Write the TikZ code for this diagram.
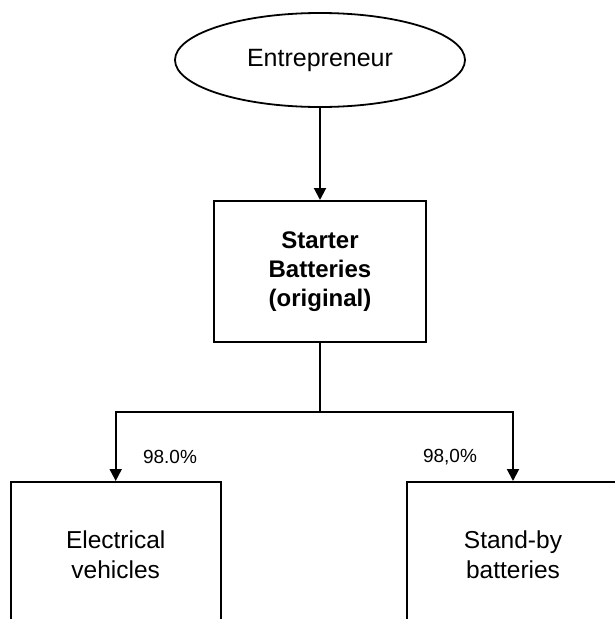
\documentclass[tikz,border=0pt]{standalone}
\usepackage{fontspec}
\setmainfont{Liberation Sans}
\usetikzlibrary{shapes.geometric,arrows.meta}
\begin{document}
\begin{tikzpicture}[x=1pt,y=-1pt,
  conn/.style={line width=2pt},
  arr/.style={conn,-{Triangle[length=12pt,width=12pt]}},
  boxstyle/.style={draw,line width=2pt,rectangle,inner sep=0pt,align=center},
  lbl/.style={inner sep=0pt,font=\fontsize{19}{22}\selectfont}]
\useasboundingbox (0,0) rectangle (615,619);
\clip (0,0) rectangle (615,619);
\node[draw,ellipse,line width=1.8pt,minimum width=290pt,minimum height=94pt,inner sep=0pt,
  font=\fontsize{25}{30}\selectfont] (ent) at (320,60) {Entrepreneur};
\node[boxstyle,minimum width=212pt,minimum height=141pt,
  font=\fontsize{24}{29}\bfseries\selectfont] (mid) at (320,271.5) {Starter\\Batteries\\(original)};
\node[boxstyle,minimum width=210pt,minimum height=146pt,
  font=\fontsize{24.5}{30}\selectfont] (ev) at (115.7,555) {Electrical\\vehicles};
\node[boxstyle,minimum width=212pt,minimum height=146pt,
  font=\fontsize{24.5}{30}\selectfont] (sb) at (513,555) {Stand-by\\batteries};
\coordinate (j) at (320,412);
\draw[arr] (ent.south) -- (mid.north);
\draw[conn] (mid.south) -- (j);
\draw[arr] (j) -| (ev.north);
\draw[arr] (j) -| (sb.north);
\node[lbl] (l1) at (170,457) {98.0\%};
\node[lbl] (l2) at (450,457) {98,0\%};
\end{tikzpicture}
\end{document}
